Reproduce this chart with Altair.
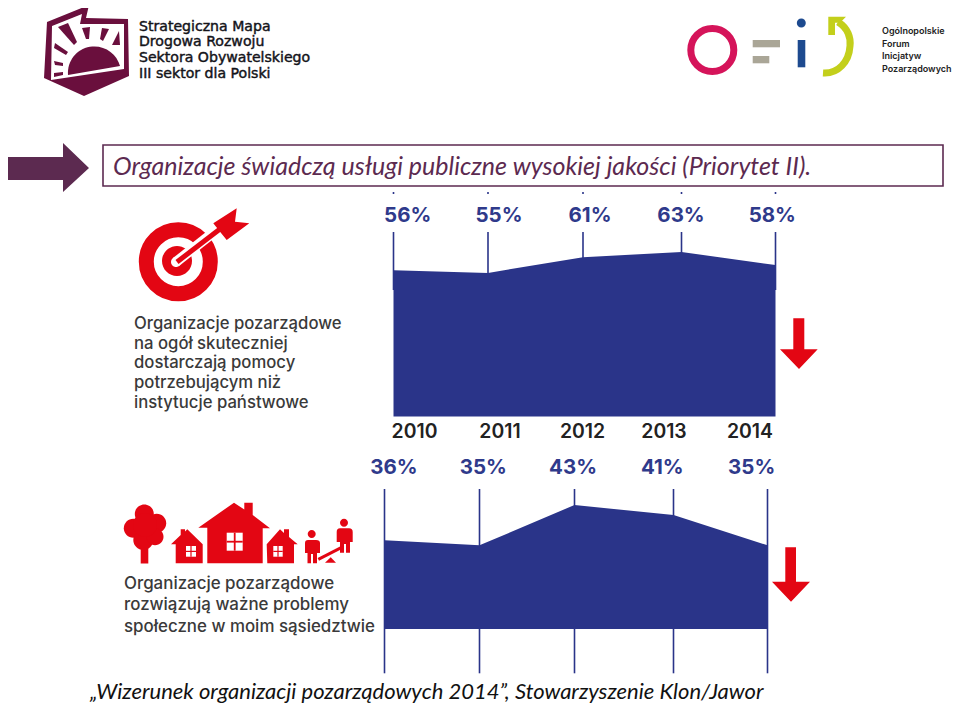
import altair as alt
import pandas as pd

# ---- chart data
years = [2010, 2011, 2012, 2013, 2014]
top_values = [56, 55, 61, 63, 58]
bottom_values = [36, 35, 43, 41, 35]

top_label = ["Organizacje pozarządowe", "na ogół skuteczniej", "dostarczają pomocy", "potrzebującym niż", "instytucje państwowe"]
bottom_label = ["Organizacje pozarządowe", "rozwiązują ważne problemy", "społeczne w moim sąsiedztwie"]
title_text = "Organizacje świadczą usługi publiczne wysokiej jakości (Priorytet II)."
footer_text = "„Wizerunek organizacji pozarządowych 2014”, Stowarzyszenie Klon/Jawor"
logo_left = ["Strategiczna Mapa", "Drogowa Rozwoju", "Sektora Obywatelskiego", "III sektor dla Polski"]
logo_right = ["Ogólnopolskie", "Forum", "Inicjatyw", "Pozarządowych"]

BLUE = "#2a3489"
BLUE_TXT = "#2f3a8b"
RED = "#e30613"
MAROON = "#6a0f3d"
PLUM = "#5c2a50"
OFF = 8  # page margin


def px(vals):
    return [v - OFF for v in vals]


x_top = alt.Scale(domain=years, range=px([393.5, 488, 583, 681.5, 775.5]))
x_bot = alt.Scale(domain=years, range=px([384.5, 479.5, 574.5, 673.5, 767.5]))
x_year_lbl = alt.Scale(domain=years, range=px([414.5, 500, 582.5, 664, 750]))
x_top_lbl = alt.Scale(domain=years, range=px([407.7, 499, 590, 681, 772.3]))
x_bot_lbl = alt.Scale(domain=years, range=px([394, 483.3, 573, 662.3, 751.7]))
y_top = alt.Scale(domain=[0, 63], range=px([416.5, 252]))
y_bot = alt.Scale(domain=[18.4, 43], range=px([629, 505]), zero=False)

df = pd.DataFrame({"year": years, "top": top_values, "bottom": bottom_values})
df["top_txt"] = [f"{v}%" for v in top_values]
df["bot_txt"] = [f"{v}%" for v in bottom_values]
df["top_floor"] = 0
df["bot_floor"] = 18.4
blank = alt.Data(values=[{}])


def X(s):
    return alt.X("year:Q", scale=s, axis=None)


def text(t, x, y, size, color="#111111", font="Inter", weight=400, italic=False, align="left", embolden=0):
    kw = dict(stroke=color, strokeWidth=embolden) if embolden else {}
    return alt.Chart(blank).mark_text(
        text=t, font=font, fontSize=size, fontWeight=weight, color=color,
        align=align, baseline="middle", fontStyle="italic" if italic else "normal", **kw
    ).encode(x=alt.value(x - OFF), y=alt.value(y - OFF))


def icon(path, fill=None, stroke=None, sw=0):
    # the path is written in page pixels; size=4 keeps it at unit scale
    mk = dict(shape=path, size=4, opacity=1)
    if fill:
        mk.update(filled=True, fill=fill)
    else:
        mk.update(filled=False, fill="transparent")
    if stroke:
        mk.update(stroke=stroke, strokeWidth=sw)
    else:
        mk.update(strokeWidth=0)
    return alt.Chart(blank).mark_point(**mk).encode(x=alt.value(-OFF), y=alt.value(-OFF))


def circ(cx, cy, r):
    return f"M{cx-r} {cy}A{r} {r} 0 1 1 {cx+r} {cy}A{r} {r} 0 1 1 {cx-r} {cy}Z"


def rect(x0, y0, x1, y1):
    return f"M{x0} {y0}L{x1} {y0}L{x1} {y1}L{x0} {y1}Z"


layers = []

# ---- left logo
layers += [
    icon("M47 22L89 5L86 18L128 19L129 76L84 96L44 78Z", MAROON),
    icon("M52 26L82 14L80 24L124 24L124 69L51 80Z", "#ffffff"),
    icon("M68 75A26.5 26.5 0 0 1 120 66Z", MAROON),
    icon("M58 27L68 23L77 42L74 45Z", MAROON),
    icon("M82 28L90 27L89 39L86 39Z", MAROON),
    icon("M102 28L109 29L103 41L100 39Z", MAROON),
    icon("M119 31L120 45L112 45Z", MAROON),
    icon("M55 43L68 52L66 55L54 48Z", MAROON),
    icon("M54 61L63 63L63 66L55 65Z", MAROON),
    icon("M54 73L63 72L63 75L54 77Z", MAROON),
]
for t, y in zip(logo_left, [26.5, 42, 58, 73.5]):
    layers.append(text(t, 139, y, 14.1, color="#14141a", font="DejaVu Sans", embolden=0.45))

# ---- right logo
layers += [
    icon(circ(712.3, 50, 21.5), None, "#d5145a", 7),
    icon(rect(752.7, 40, 780, 47.3), "#aaa697"),
    icon(rect(752.7, 56, 769.3, 63.3), "#aaa697"),
    icon(circ(801.3, 23, 4.5), "#1d4a8f"),
    icon(rect(797.7, 40, 805.3, 67.3), "#1d4a8f"),
    icon("M838 22C848 28 851 38 850 46C849 62 838 74 823 73", None, "#c3cf1b", 7),
    icon("M828.3 16.7L846 16.7L840 22.7L835 22.7L835 35L828.3 35Z", "#c3cf1b"),
]
for t, y in zip(logo_right, [31, 43.5, 56, 68.5]):
    layers.append(text(t, 882, y, 9, color="#222222", font="Inter", weight=600))

# ---- pointer arrow, title box
layers += [
    icon("M8 157L63 157L63 143L89 168L63 192L63 180L8 180Z", PLUM),
    icon(rect(103, 145, 943, 186), "#ffffff", PLUM, 1.6),
    text(title_text, 113, 166.5, 25, color=PLUM, font="Lato", italic=True),
]

# ---- top panel
base = alt.Chart(alt.Data(values=df.to_dict("records")))
layers += [
    base.mark_rule(color=BLUE, strokeWidth=1.6).encode(x=X(x_top), y=alt.value(232 - OFF), y2=alt.value(290 - OFF)),
    base.mark_rule(color=BLUE, strokeWidth=1.6).encode(x=X(x_top), y=alt.value(192 - OFF), y2=alt.value(194 - OFF)),
    base.mark_area(color=BLUE, opacity=1).encode(
        x=X(x_top), y=alt.Y("top:Q", scale=y_top, axis=None, stack=None), y2="top_floor:Q"),
    base.mark_text(font="Inter", fontWeight=700, fontSize=20.5, color=BLUE_TXT, baseline="middle").encode(
        x=X(x_top_lbl), y=alt.value(216 - OFF), text="top_txt:N"),
    base.mark_text(font="Inter", fontWeight=600, fontSize=19.4, color="#222222", baseline="middle").encode(
        x=X(x_year_lbl), y=alt.value(432.3 - OFF), text="year:N"),
]

# ---- bottom panel
layers += [
    base.mark_rule(color=BLUE, strokeWidth=1.6).encode(x=X(x_bot), y=alt.value(489 - OFF), y2=alt.value(673.3 - OFF)),
    base.mark_area(color=BLUE, opacity=1).encode(
        x=X(x_bot), y=alt.Y("bottom:Q", scale=y_bot, axis=None, stack=None), y2="bot_floor:Q"),
    base.mark_text(font="Inter", fontWeight=700, fontSize=20.5, color=BLUE_TXT, baseline="middle").encode(
        x=X(x_bot_lbl), y=alt.value(467.6 - OFF), text="bot_txt:N"),
]

# ---- down arrows
layers += [
    icon("M793.3 318.3L804.3 318.3L804.3 349.3L817.7 349.3L799 369L780 349.3L793.3 349.3Z", RED),
    icon("M785.3 547.3L796 547.3L796 581.7L810 581.7L791 601.7L772 581.7L785.3 581.7Z", RED),
]

# ---- target icon
layers += [
    icon(circ(178.3, 261.7, 32), None, RED, 15),
    icon(circ(177, 261, 15), RED),
    icon("M176 262L218 229", None, "#ffffff", 10),
    icon(circ(176, 262, 5), "#ffffff"),
    icon("M177 262L220 229", None, RED, 5),
    icon("M213.3 223.3L236.7 208.3L235 221.7L249.3 223.3L226.7 240L220 231.7Z", RED),
]

# ---- neighbourhood icons
layers += [
    icon(circ(144.3, 514, 9.5), RED), icon(circ(133.3, 528.3, 9.5), RED), icon(circ(156.7, 523.3, 9.5), RED),
    icon(circ(143.3, 540, 10), RED), icon(circ(155, 536.7, 8.5), RED), icon(circ(145, 525, 12), RED),
    icon(rect(140.7, 545, 148.3, 563.5), RED),
    # big house
    icon("M198.3 527.7L234 502.7L244.3 509.5L244.3 502.7L252.7 502.7L252.7 515L270 528.3L262.7 528.3L262.7 563.3L207.3 563.3L207.3 527.7Z", RED),
    icon(rect(226.7, 532.7, 242.7, 550.7), "#ffffff"),
    icon(rect(233.8, 532.7, 235.6, 550.7), RED),
    icon(rect(226.7, 540.8, 242.7, 542.6), RED),
    # left house
    icon("M171 544.3L180.7 535L180.7 529.3L185 529.3L185 531.5L187.3 529.3L202.7 544.3L202.7 563.3L175.7 563.3L175.7 544.3Z", RED),
    icon(rect(186, 546, 196, 556.7), "#ffffff"),
    icon(rect(190.4, 546, 191.6, 556.7), RED),
    icon(rect(186, 550.8, 196, 552), RED),
    # right house
    icon("M266.7 544.3L280 529.3L284 533L284 529.3L289 529.3L289 537L297.7 544.3L294 544.3L294 563.3L267.3 563.3Z", RED),
    icon(rect(273.3, 546, 282.7, 556.7), "#ffffff"),
    icon(rect(277.4, 546, 278.6, 556.7), RED),
    icon(rect(273.3, 550.8, 282.7, 552), RED),
    # see-saw
    icon(circ(311.7, 534, 4), RED),
    icon("M305 543Q305 540 308 540L316 540Q320 540 320 543L320 553L317 553L317 563.3L313 563.3L313 554L311 554L311 563.3L307.5 563.3L307.5 553L305 553Z", RED),
    icon(circ(344, 522.7, 4), RED),
    icon("M336.7 532Q336.7 528.3 340 528.3L349 528.3Q352.7 528.3 352.7 532L352.7 542L350 542L350 552.7L346 552.7L346 544L344 544L344 552.7L340 552.7L340 542L336.7 542Z", RED),
    icon("M318.3 559.3L341.7 547.3", None, RED, 3),
    icon("M325 562.7L330.7 557.3L336 562.7Z", RED),
]

# ---- side labels
for t, y in zip(top_label, [324, 343.5, 363, 383, 403]):
    layers.append(text(t, 134, y, 16.7, color="#3a3a3a", weight=500))
for t, y in zip(bottom_label, [583.5, 605, 626.5]):
    layers.append(text(t, 124, y, 16.9, color="#3a3a3a", weight=500))

# ---- footer
layers.append(text(footer_text, 90, 692, 22, color="#111111", font="Lato", italic=True))

chart = (
    alt.layer(*layers)
    .resolve_scale(x="independent", y="independent")
    .properties(width=944, height=695, padding=0, autosize=alt.AutoSizeParams(type="none"),
                background="#ffffff")
    .configure_view(stroke=None)
)
chart.save("out.html", embed_options={"renderer": "svg", "actions": False})
